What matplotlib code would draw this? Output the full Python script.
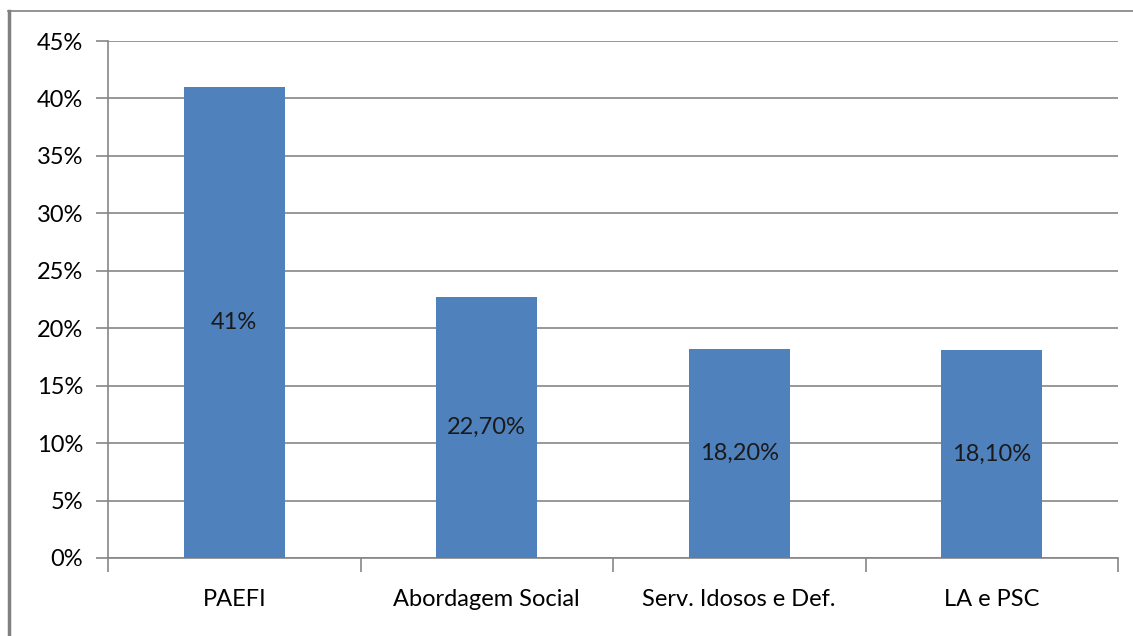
import matplotlib.pyplot as plt
from matplotlib.lines import Line2D
import numpy as np

categories = ['PAEFI', 'Abordagem Social', 'Serv. Idosos e Def.', 'LA e PSC']
values = [41.0, 22.7, 18.2, 18.1]
bar_labels = ['41%', '22,70%', '18,20%', '18,10%']
yticks = [0, 5, 10, 15, 20, 25, 30, 35, 40, 45]

W, H = 1133, 636
fig = plt.figure(figsize=(W / 100, H / 100), dpi=100)
plt.rcParams['font.family'] = ['Lato', 'DejaVu Sans']
fs = 17

# plot area in pixel coords
x0, x1 = 108, 1118
y0, y1 = 558, 41
ax = fig.add_axes([x0 / W, 1 - y0 / H, (x1 - x0) / W, (y0 - y1) / H])

x = np.arange(len(categories))
bars = ax.bar(x, values, width=0.4, color='#4f81bd', zorder=3)
for b, lab in zip(bars, bar_labels):
    ax.text(b.get_x() + b.get_width() / 2, b.get_height() / 2, lab,
            ha='center', va='center', fontsize=fs, color='#1a1a1a', zorder=4)

ax.set_xlim(-0.5, len(categories) - 0.5)
ax.set_ylim(0, 45)
ax.set_yticks(yticks)
ax.set_yticklabels([f'{t}%' for t in yticks], fontsize=fs)
ax.yaxis.grid(True, color='#868686', linewidth=1.2, zorder=0)
ax.tick_params(axis='y', length=9, width=1.2, color='#868686', pad=9)

# category ticks sit on the boundaries between groups
ax.set_xticks(np.arange(len(categories) + 1) - 0.5)
ax.set_xticklabels([])
ax.set_xticks(x, minor=True)
ax.set_xticklabels(categories, minor=True, fontsize=fs)
ax.tick_params(axis='x', which='major', length=10, width=1.2, color='#868686')
ax.tick_params(axis='x', which='minor', length=0, pad=22)

for side in ['top', 'right']:
    ax.spines[side].set_visible(False)
for side in ['left', 'bottom']:
    ax.spines[side].set_color('#868686')
    ax.spines[side].set_linewidth(1.2)

# outer frame of the chart
fig.add_artist(Line2D([9 / W, 9 / W], [0, 1 - 11 / H], color='#808080', linewidth=2.5))
fig.add_artist(Line2D([8 / W, 1], [1 - 11 / H, 1 - 11 / H], color='#808080', linewidth=1.2))

fig.savefig('out.png', dpi=100)
